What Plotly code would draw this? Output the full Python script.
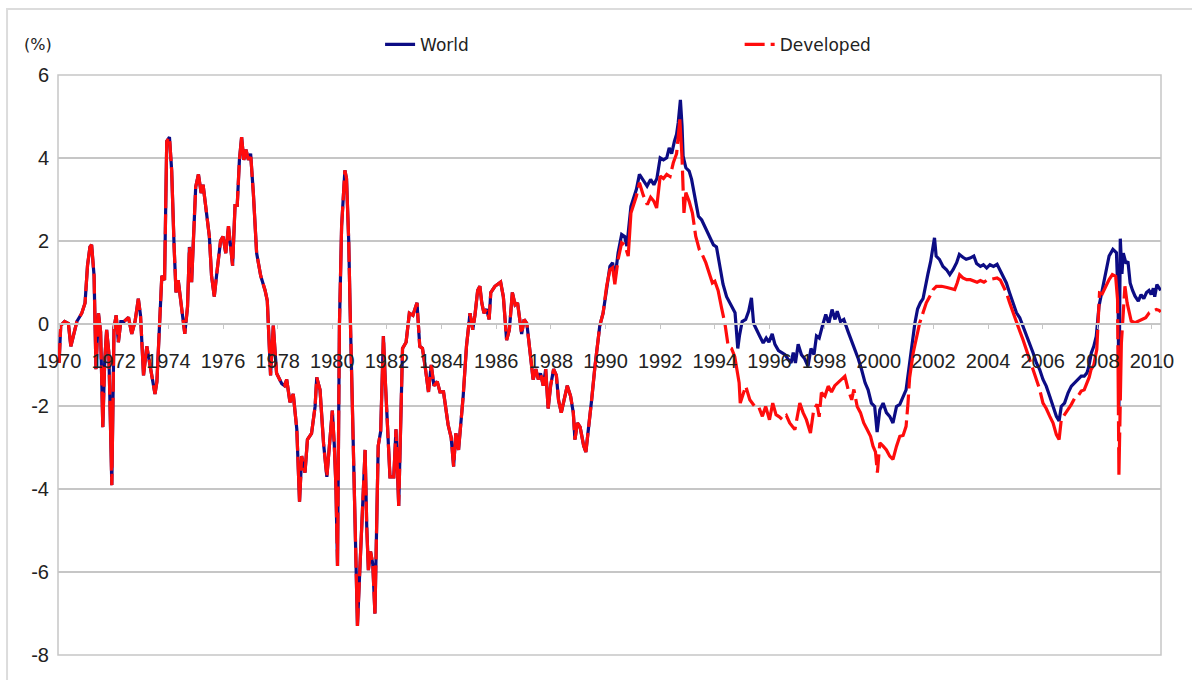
"""
World vs developed markets line chart (%), 1970-2010.
"""
import plotly.graph_objects as go

# shared history: the two series are the same before 1990
early_years = [
    1970.00, 1970.06, 1970.20, 1970.34, 1970.43, 1970.52, 1970.65, 1970.83, 1970.95, 1971.04,
    1971.13, 1971.19, 1971.28, 1971.35, 1971.44, 1971.52, 1971.60, 1971.67, 1971.74, 1971.82,
    1971.93, 1972.01, 1972.09, 1972.17, 1972.26, 1972.38, 1972.54, 1972.66, 1972.78, 1972.90,
    1972.98, 1973.09, 1973.21, 1973.30, 1973.39, 1973.51, 1973.58, 1973.67, 1973.76, 1973.86,
    1973.94, 1974.04, 1974.12, 1974.21, 1974.28, 1974.36, 1974.49, 1974.60, 1974.70, 1974.77,
    1974.85, 1974.91, 1975.00, 1975.10, 1975.20, 1975.27, 1975.40, 1975.50, 1975.58, 1975.68,
    1975.77, 1975.91, 1976.00, 1976.10, 1976.20, 1976.28, 1976.35, 1976.44, 1976.52, 1976.60,
    1976.68, 1976.76, 1976.84, 1976.93, 1977.01, 1977.11, 1977.23, 1977.38, 1977.54, 1977.62,
    1977.67, 1977.74, 1977.84, 1977.96, 1978.15, 1978.25, 1978.33, 1978.45, 1978.57, 1978.70,
    1978.80, 1978.88, 1979.00, 1979.09, 1979.24, 1979.37, 1979.43, 1979.55, 1979.68, 1979.80,
    1979.90, 1980.00, 1980.07, 1980.13, 1980.19, 1980.26, 1980.34, 1980.40, 1980.46, 1980.52,
    1980.60, 1980.65, 1980.77, 1980.87, 1980.92, 1980.99, 1981.07, 1981.20, 1981.26, 1981.32,
    1981.40, 1981.48, 1981.56, 1981.68, 1981.77, 1981.87, 1981.93, 1982.02, 1982.11, 1982.25,
    1982.33, 1982.43, 1982.50, 1982.57, 1982.70, 1982.82, 1982.95, 1983.10, 1983.20, 1983.30,
    1983.41, 1983.52, 1983.62, 1983.72, 1983.84, 1983.94, 1984.07, 1984.24, 1984.35, 1984.44,
    1984.52, 1984.62, 1984.79, 1984.91, 1985.04, 1985.14, 1985.22, 1985.32, 1985.40, 1985.47,
    1985.55, 1985.65, 1985.74, 1985.80, 1985.95, 1986.07, 1986.16, 1986.26, 1986.38, 1986.48,
    1986.59, 1986.69, 1986.78, 1986.93, 1987.02, 1987.12, 1987.23, 1987.35, 1987.45, 1987.54,
    1987.62, 1987.72, 1987.81, 1987.90, 1987.99, 1988.10, 1988.20, 1988.28, 1988.38, 1988.47,
    1988.60, 1988.72, 1988.82, 1988.88, 1988.97, 1989.07, 1989.20, 1989.28, 1989.36, 1989.49,
    1989.61, 1989.70, 1989.79, 1989.91, 1990.04,
]
early_vals = [
    -0.95, -0.05, 0.05, 0.0, -0.55, -0.3, 0.05, 0.25, 0.5, 1.4,
    1.85, 1.9, 1.15, -1.1, 0.25, -0.2, -2.5, -0.9, -0.15, -0.7,
    -3.9, -0.1, 0.2, -0.45, 0.05, 0.05, 0.15, -0.25, 0.05, 0.6,
    0.2, -1.25, -0.55, -0.9, -1.25, -1.7, -1.4, 0.0, 1.15, 1.05,
    4.4, 4.5, 3.7, 1.85, 0.75, 1.05, 0.25, -0.25, 0.4, 1.85,
    1.0, 1.9, 3.3, 3.6, 3.15, 3.35, 2.6, 2.1, 1.15, 0.65,
    1.2, 2.0, 2.1, 1.7, 2.35, 1.9, 1.4, 2.85, 2.85, 3.95,
    4.5, 3.95, 4.2, 3.95, 4.1, 3.15, 1.7, 1.15, 0.8, 0.55,
    -0.15, -1.25, -0.05, -1.2, -1.45, -1.5, -1.35, -1.9, -1.7, -2.55,
    -4.3, -3.2, -3.6, -2.8, -2.65, -2.0, -1.3, -1.6, -2.9, -3.7,
    -2.9, -2.1, -2.9, -3.9, -5.85, -0.05, 2.35, 3.15, 3.7, 3.5,
    2.0, 0.4, -2.95, -5.7, -7.3, -6.2, -5.0, -3.05, -4.9, -5.95,
    -5.5, -5.8, -7.0, -2.95, -2.6, -0.3, -1.25, -2.7, -3.7, -3.7,
    -2.55, -4.4, -2.55, -0.6, -0.45, 0.25, 0.2, 0.5, -0.55, -0.6,
    -1.1, -1.65, -1.0, -1.5, -1.4, -1.65, -1.65, -2.45, -2.75, -3.45,
    -2.65, -3.05, -1.75, -0.55, 0.25, -0.15, 0.2, 0.8, 0.9, 0.5,
    0.25, 0.35, 0.1, 0.75, 0.9, 0.95, 1.0, 0.65, -0.4, -0.15,
    0.75, 0.45, 0.5, -0.25, 0.1, 0.0, -0.7, -1.35, -1.1, -1.35,
    -1.2, -1.5, -1.1, -2.05, -1.5, -1.1, -1.25, -1.85, -2.15, -1.9,
    -1.5, -1.75, -2.15, -2.8, -2.4, -2.5, -2.95, -3.1, -2.65, -1.85,
    -1.05, -0.5, -0.05, 0.25, 0.9,
]

world_years = [
    1990.16, 1990.26, 1990.34, 1990.46, 1990.59, 1990.70, 1990.78, 1990.93, 1991.13, 1991.24,
    1991.38, 1991.52, 1991.65, 1991.77, 1991.88, 1992.00, 1992.12, 1992.24, 1992.33, 1992.42,
    1992.52, 1992.60, 1992.66, 1992.74, 1992.80, 1992.84, 1992.94, 1993.06, 1993.15, 1993.27,
    1993.40, 1993.52, 1993.63, 1993.73, 1993.84, 1993.95, 1994.06, 1994.18, 1994.30, 1994.43,
    1994.55, 1994.65, 1994.74, 1994.84, 1994.90, 1995.00, 1995.13, 1995.24, 1995.34, 1995.42,
    1995.52, 1995.64, 1995.77, 1995.88, 1995.98, 1996.10, 1996.20, 1996.33, 1996.45, 1996.57,
    1996.69, 1996.79, 1996.87, 1996.95, 1997.05, 1997.17, 1997.29, 1997.41, 1997.52, 1997.63,
    1997.72, 1997.82, 1997.94, 1998.06, 1998.17, 1998.29, 1998.40, 1998.48, 1998.60, 1998.72,
    1998.88, 1999.00, 1999.13, 1999.25, 1999.37, 1999.50, 1999.61, 1999.73, 1999.85, 1999.94,
    2000.04, 2000.16, 2000.28, 2000.40, 2000.52, 2000.65, 2000.77, 2000.89, 2001.00, 2001.10,
    2001.20, 2001.32, 2001.42, 2001.52, 2001.62, 2001.72, 2001.80, 2001.90, 2001.97, 2002.04,
    2002.10, 2002.22, 2002.35, 2002.48, 2002.60, 2002.72, 2002.85, 2002.95, 2003.08, 2003.20,
    2003.34, 2003.48, 2003.58, 2003.72, 2003.83, 2003.95, 2004.07, 2004.20, 2004.33, 2004.43,
    2004.55, 2004.67, 2004.79, 2004.91, 2005.04, 2005.16, 2005.28, 2005.40, 2005.52, 2005.65,
    2005.77, 2005.89, 2006.01, 2006.13, 2006.26, 2006.38, 2006.50, 2006.60, 2006.68, 2006.80,
    2006.93, 2007.05, 2007.17, 2007.29, 2007.41, 2007.52, 2007.62, 2007.69, 2007.78, 2007.87,
    2007.96, 2008.06, 2008.18, 2008.30, 2008.43, 2008.57, 2008.70, 2008.76, 2008.79, 2008.84,
    2008.90, 2008.95, 2009.05, 2009.12, 2009.20, 2009.29, 2009.38, 2009.50, 2009.60, 2009.70,
    2009.80, 2009.89, 2009.97, 2010.05, 2010.10, 2010.18, 2010.26, 2010.32,
]
world_vals = [
    1.38, 1.47, 1.06, 1.71, 2.15, 2.1, 1.87, 2.83, 3.24, 3.6,
    3.45, 3.32, 3.48, 3.35, 3.5, 4.0, 3.95, 4.0, 4.24, 4.1,
    4.4, 4.57, 4.85, 5.4, 4.77, 4.04, 3.76, 3.68, 3.48, 3.08,
    2.59, 2.5, 2.35, 2.2, 2.03, 1.9, 1.85, 1.38, 0.95, 0.65,
    0.5, 0.4, 0.26, -0.6, -0.3, 0.05, 0.1, 0.3, 0.62, 0.0,
    -0.12, -0.3, -0.47, -0.35, -0.45, -0.25, -0.5, -0.65, -0.7, -0.75,
    -0.87, -0.95, -0.7, -0.95, -0.5, -0.75, -0.85, -1.03, -0.6, -0.75,
    -0.3, -0.35, -0.05, 0.22, 0.0, 0.34, 0.1, 0.3, 0.05, 0.1,
    -0.2, -0.4, -0.63, -0.85, -1.11, -1.43, -1.6, -1.92, -2.0, -2.62,
    -2.08, -1.92, -2.15, -2.24, -2.4, -2.0, -1.95, -1.76, -1.6, -1.1,
    -0.55, 0.0, 0.35, 0.5, 0.6, 1.0, 1.2, 1.5, 1.79, 2.07,
    1.63, 1.55, 1.38, 1.3, 1.18, 1.3, 1.47, 1.67, 1.6, 1.55,
    1.58, 1.63, 1.45, 1.38, 1.42, 1.34, 1.42, 1.38, 1.43, 1.3,
    1.14, 0.98, 0.74, 0.5, 0.26, 0.14, -0.06, -0.31, -0.47, -0.71,
    -0.95, -1.11, -1.35, -1.51, -1.76, -2.0, -2.24, -2.35, -2.0, -1.92,
    -1.67, -1.51, -1.43, -1.35, -1.27, -1.27, -1.19, -1.03, -0.71, -0.55,
    -0.31, 0.42, 0.82, 1.22, 1.63, 1.79, 1.71, 0.6, -2.0, 2.05,
    1.2, 1.7, 1.45, 1.5, 0.98, 0.8, 0.66, 0.54, 0.7, 0.6,
    0.75, 0.8, 0.7, 0.85, 0.65, 0.94, 0.85, 0.8,
]

dev_years = [
    1990.16, 1990.26, 1990.34, 1990.46, 1990.59, 1990.70, 1990.83, 1990.93, 1991.13, 1991.24,
    1991.38, 1991.53, 1991.65, 1991.77, 1991.87, 1992.00, 1992.12, 1992.24, 1992.36, 1992.48,
    1992.60, 1992.72, 1992.80, 1992.87, 1992.94, 1993.06, 1993.18, 1993.30, 1993.43, 1993.55,
    1993.67, 1993.79, 1993.91, 1994.00, 1994.12, 1994.24, 1994.37, 1994.49, 1994.61, 1994.73,
    1994.82, 1994.89, 1994.93, 1995.04, 1995.13, 1995.28, 1995.46, 1995.60, 1995.74, 1995.86,
    1996.00, 1996.12, 1996.24, 1996.36, 1996.48, 1996.62, 1996.74, 1996.93, 1997.11, 1997.23,
    1997.35, 1997.50, 1997.62, 1997.74, 1997.82, 1997.90, 1998.03, 1998.15, 1998.27, 1998.39,
    1998.51, 1998.64, 1998.76, 1998.88, 1999.01, 1999.09, 1999.21, 1999.33, 1999.45, 1999.57,
    1999.70, 1999.79, 1999.88, 1999.95, 2000.04, 2000.16, 2000.28, 2000.40, 2000.52, 2000.65,
    2000.77, 2000.89, 2001.00, 2001.07, 2001.13, 2001.26, 2001.38, 2001.50, 2001.62, 2001.74,
    2001.87, 2001.99, 2002.11, 2002.30, 2002.50, 2002.65, 2002.78, 2002.87, 2002.96, 2003.08,
    2003.22, 2003.35, 2003.48, 2003.60, 2003.72, 2003.85, 2003.97, 2004.10, 2004.22, 2004.33,
    2004.45, 2004.55, 2004.67, 2004.79, 2004.91, 2005.04, 2005.16, 2005.28, 2005.40, 2005.52,
    2005.65, 2005.77, 2005.89, 2006.01, 2006.13, 2006.26, 2006.38, 2006.50, 2006.60, 2006.68,
    2006.80, 2006.93, 2007.05, 2007.17, 2007.29, 2007.41, 2007.52, 2007.62, 2007.70, 2007.77,
    2007.87, 2007.98, 2008.08, 2008.18, 2008.30, 2008.43, 2008.55, 2008.67, 2008.74, 2008.79,
    2008.88, 2008.94, 2009.01, 2009.09, 2009.16, 2009.24, 2009.38, 2009.50, 2009.63, 2009.77,
    2009.90, 2010.03, 2010.16, 2010.26, 2010.32,
]
dev_vals = [
    1.3, 1.35, 0.95, 1.55, 1.95, 1.9, 1.63, 2.67, 3.08, 3.4,
    3.1, 2.87, 3.05, 2.95, 2.79, 3.56, 3.5, 3.6, 3.55, 3.88,
    4.1, 4.93, 4.0, 2.67, 3.16, 2.95, 2.67, 2.11, 1.79, 1.65,
    1.47, 1.2, 0.98, 1.02, 0.8, 0.4, 0.0, -0.55, -0.6, -0.8,
    -1.11, -1.43, -1.92, -1.67, -1.51, -1.84, -2.0, -2.0, -2.24, -2.0,
    -2.32, -1.92, -2.2, -2.25, -2.32, -2.22, -2.4, -2.56, -1.92, -2.15,
    -2.32, -2.64, -2.08, -1.95, -2.25, -1.67, -1.75, -1.51, -1.65, -1.5,
    -1.43, -1.35, -1.27, -1.59, -1.84, -1.59, -2.0, -2.15, -2.4, -2.55,
    -2.72, -2.96, -3.1, -3.6, -2.88, -2.96, -3.05, -3.2, -3.28, -2.96,
    -2.72, -2.7, -2.48, -1.92, -1.3, -0.71, -0.3, 0.02, 0.26, 0.5,
    0.66, 0.82, 0.9, 0.9, 0.87, 0.85, 0.82, 0.98, 1.18, 1.1,
    1.06, 1.06, 1.02, 1.0, 1.04, 1.0, 1.05, 1.07, 1.07, 1.1,
    1.05, 0.9, 0.75, 0.5, 0.26, 0.02, -0.18, -0.39, -0.63, -0.83,
    -1.11, -1.35, -1.59, -1.92, -2.05, -2.24, -2.4, -2.68, -2.8, -2.32,
    -2.2, -2.08, -1.95, -1.8, -1.75, -1.63, -1.6, -1.43, -1.3, -1.11,
    -1.0, -0.63, 0.74, 0.72, 0.9, 1.06, 1.18, 1.14, 0.58, -3.65,
    -0.47, 0.18, 0.9, 0.5, 0.26, 0.06, 0.02, 0.06, 0.1, 0.14,
    0.26, 0.3, 0.34, 0.32, 0.28,
]

year_ticks = list(range(1970, 2011, 2))
y_ticks = [-8, -6, -4, -2, 0, 2, 4, 6]
y_labels = ["-8", "-6", "-4", "-2", "0", "2", "4", "6"]

NAVY = "#0c0c84"
RED = "#ff0c0c"
GRID = "#c6c6c6"
TXT = "#222222"

fig = go.Figure()
fig.add_trace(go.Scatter(
    x=early_years + world_years, y=early_vals + world_vals,
    mode="lines", name="World", legend="legend", showlegend=True,
    line=dict(color=NAVY, width=3.2),
))
# long dashes; the short first dash makes the legend sample show a break too
fig.add_trace(go.Scatter(
    x=early_years + dev_years, y=early_vals + dev_vals,
    mode="lines", name="Developed", legend="legend2", showlegend=True,
    line=dict(color=RED, width=3.2, dash="20px,6px,70px,6px"),
))

# plot-area frame and the outer chart border
fig.add_shape(type="rect", xref="paper", yref="paper", x0=0, x1=1, y0=0, y1=1,
              line=dict(color=GRID, width=1.5), layer="below")
fig.add_shape(type="rect", xref="paper", yref="paper",
              x0=-0.0462, x1=1.035, y0=-0.07, y1=1.1138,
              line=dict(color="#dcdcdc", width=2), layer="below")

fig.update_layout(
    width=1192, height=680,
    margin=dict(l=58, r=31, t=75, b=25, autoexpand=False),
    showlegend=True,
    paper_bgcolor="white", plot_bgcolor="white",
    font=dict(family="DejaVu Sans", color=TXT, size=17),
    xaxis=dict(
        range=[1969.96, 2010.33],
        tickmode="array", tickvals=year_ticks,
        anchor="free", position=8 / 14,
        showline=True, linecolor=GRID, linewidth=1.5,
        ticks="outside", ticklen=5, tickcolor=GRID,
        showgrid=False, zeroline=False,
        tickfont=dict(family="Liberation Sans", size=20, color=TXT),
        ticklabelstandoff=15,
    ),
    yaxis=dict(
        range=[-8, 6], tickmode="array", tickvals=y_ticks, ticktext=y_labels,
        showgrid=True, gridcolor=GRID, gridwidth=1.5,
        zeroline=False, showline=False,
        tickfont=dict(family="Liberation Sans", size=20, color=TXT),
        ticklabelstandoff=8,
    ),
    legend=dict(orientation="h", x=0.292, y=1.052, xanchor="left", yanchor="middle",
                font=dict(family="DejaVu Sans", size=17, color=TXT),
                bgcolor="rgba(0,0,0,0)"),
    legend2=dict(orientation="h", x=0.618, y=1.052, xanchor="left", yanchor="middle",
                 font=dict(family="DejaVu Sans", size=17, color=TXT),
                 bgcolor="rgba(0,0,0,0)"),
    annotations=[dict(text="(%)", xref="paper", yref="paper", x=-0.018, y=1.052,
                      xanchor="center", yanchor="middle", showarrow=False,
                      font=dict(family="DejaVu Sans", size=16, color=TXT))],
)

# drop the page's default 8px body margin so the figure sits at the window origin
fig.write_html("out.html", config={"displayModeBar": False},
               post_script="document.body.style.margin = '0';")
